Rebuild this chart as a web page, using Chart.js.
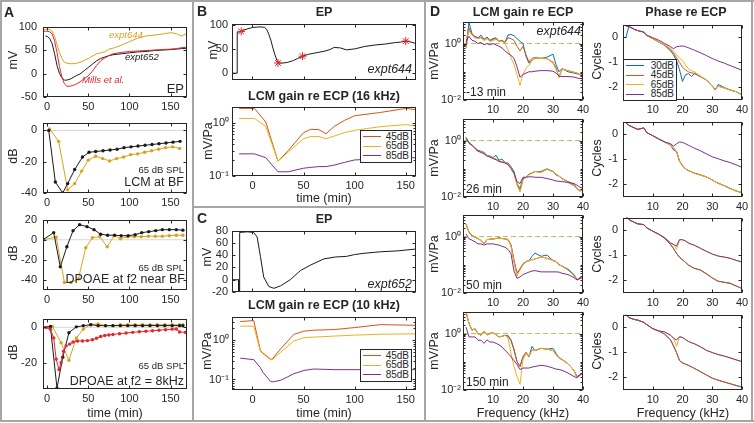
<!DOCTYPE html>
<html>
<head>
<meta charset="UTF-8">
<title>EP and LCM gain during furosemide</title>
<script src="https://cdn.jsdelivr.net/npm/chart.js"></script>
<style>
    body { margin: 0; background: #fff; font-family: "Liberation Sans", Arial, sans-serif; color: #262626; }
    #fig { position: relative; width: 754px; height: 423px; overflow: hidden; }
    canvas { position: absolute; }
    .t { position: absolute; white-space: nowrap; line-height: 1; }
    .rule { position: absolute; background: #a6a6a6; }
    .leg { position: absolute; border: 1px solid #262626; background: #fff; box-sizing: border-box; padding: 1px 2px; color: #262626; }
    .leg .row { display: flex; align-items: center; justify-content: space-between; line-height: 1; white-space: nowrap; }
    .leg .ln { display: block; flex: 0 0 18px; height: 1px; }
</style>
</head>
<body>
<div id="fig"></div>
<script>
// ---- panel A: EP and cochlear responses vs time (min) ----
const a1Time = [-5, -2, 0, 3, 6, 9, 12, 15, 18, 21, 24, 28, 32, 36, 40, 45, 50, 55, 60, 65, 70, 75, 80, 90, 100, 110, 120, 130, 140, 150, 157, 163, 170];
const a1Gold = [93, 94, 94, 94, 90, 80, 62, 45, 32, 24, 22, 21, 21, 22, 24, 28, 32, 37, 42, 44, 46, 52, 54, 60, 68, 75, 80, 82, 84, 87, 85, 80, 85];
const a1Black = [null, 80, 79, 75, 64, 43, 17, 0, -9, -14, -14, -12, -8, -4, -1, 6, 13, 20, 27, 32, 35, 38, 40, 42, 44, 46, 47, 49, 50, 51, 52, 53, 54];
const a1Mills = [90, 90, 90, 89, 85, 70, 45, 15, -8, -22, -27, -27, -25, -22, -18, -11, -5, 5, 17, 27, 33, 38, 42, 45, 47, 48, 49, 50, 51, 52, 53, 55, 56];

const a2BlackT = [2, 10, 19, 25, 33.5, 43, 51, 59, 68, 76.5, 85, 93.5, 102, 110.5, 119, 127.5, 136, 144.5, 153, 161.5];
const a2Black = [0, -33, -40, -34, -25, -17, -14, -13.5, -13, -12.5, -12, -11, -10.5, -10, -9.5, -9, -8.5, -8, -7.5, -7];
const a2GoldT = [3, 14, 25, 33.5, 42, 50, 59, 67.5, 76, 84.5, 93, 101.5, 110, 118.5, 127, 135.5, 144, 152.5, 161];
const a2Gold = [1, -7, -38, -34, -26, -19, -16.5, -18, -19.5, -18, -17, -15.5, -15, -14, -13, -12, -11, -10.5, -11.5];

const a3BlackT = [-5, 8, 16, 24, 31.5, 39.5, 48.5, 57, 65, 73.5, 82, 90, 98.5, 107, 115, 123.5, 132, 140, 148.5, 157, 165];
const a3Black = [0, 7, -27, -7, 9, 15, 13, 10, 5.5, 4.5, 4.5, 4, 4, 5, 7, 8, 9, 10, 10, 10, 9.5];
const a3GoldT = [-5, 11, 21, 29, 38, 47, 55, 64, 73, 81.5, 89, 97.5, 106, 114.5, 123, 131.5, 140, 148.5, 157, 165];
const a3Gold = [0, 2.5, -42.5, -42.5, -39, -8, 2, 3, -7, 4, 1, 3, 3, 3, 3.5, 3.5, 3.5, 4, 4.5, 4.5];

const a4BlackT = [-5, 4, 12, 19, 26.5, 35.5, 44, 53, 62, 71, 80, 89, 98, 107, 116, 125, 134, 143, 152, 161, 165];
const a4Black = [0, 0.5, -34.5, -17, -3, 0.3, 1, 1.5, 1, 1, 1, 1, 1, 1, 1, 1, 1, 1, 1, 1, 1];
const a4GoldT = [-5, 6.5, 17, 26.5, 35.5, 44, 53, 62, 71, 80, 89, 98, 107, 116, 125, 134, 143, 152, 161, 165];
const a4Gold = [0, 0.5, -8.7, -18.7, -6, -1, 1.7, 2, 1, 1, 1.5, 1.5, 1.5, 1.5, 1.5, 1.5, 1.5, 1.5, 1.5, 1.5];
const a4RedT = [-5, -1, 4, 8, 11, 14.5, 17, 20, 23, 27.5, 31.5, 37, 43, 49, 55, 60, 65, 70, 75, 80, 88, 96, 104, 112, 120, 128, 136, 144, 152, 157, 161, 168];
const a4Red = [0, 0, -1, -6, -18, -24, -20, -13.5, -10.5, -9.5, -8.3, -7.7, -7.7, -7.5, -7, -6.2, -5.2, -4.6, -4.3, -4, -3.6, -3.2, -2.8, -2.5, -2.2, -1.9, -1.6, -1.3, -1, -0.9, -2.6, -2.8];

// ---- panel B: expt644 ----
const b1T = [-20, -15, -14.9, -13, -11, -8, -5, 0, 5, 9, 12, 14, 16, 18, 20, 22, 24, 26, 30, 34, 40, 44, 49, 55, 60, 65, 70, 75, 80, 86, 92, 100, 110, 120, 130, 140, 145, 150, 155, 160];
const b1EP = [0, 0, 84, 85, 86, 89, 91, 94, 95, 95, 94, 90, 80, 68, 52, 38, 26, 21, 21, 22, 26, 30, 35, 39, 41, 43, 45, 48, 53, 52, 48, 50, 55, 58, 60, 63, 64, 66, 64, 61];
const b1StarT = [-11, 25, 49, 150];
const b1StarV = [86, 21, 35, 66];
const b2T = [-13, 2, 13, 25, 35, 50, 57, 65, 72, 80, 90, 100, 125, 150, 160];
const b2Db45 = [1.85, 1.85, 1.03, 0.19, 0.3, 0.65, 0.75, 0.74, 0.62, 0.85, 1.1, 1.35, 1.55, 1.85, 1.75];
const b2Db65 = [1.2, 1.2, 0.85, 0.19, 0.28, 0.5, 0.55, 0.55, 0.5, 0.56, 0.65, 0.72, 0.84, 0.92, 0.87];
const b2Db85 = [0.26, 0.26, 0.22, 0.12, 0.12, 0.14, 0.145, 0.15, 0.15, 0.16, 0.18, 0.2, 0.21, 0.22, 0.22];

// ---- panel C: expt652 ----
const c1T = [-20, -13.5, -13.4, -12.6, -12.5, -5, 1.3, 4.6, 7.8, 11, 16, 21, 27.5, 37, 47, 57, 70, 81, 92, 100, 109, 125, 142, 160];
const c1EP = [0, 0, -20, -20, 77, 78, 77, 69.5, 38, 4.4, -11, -14, -10, 0, 15, 24, 34, 37, 38, 41, 43, 45.5, 47, 50];
const c2T = [-12, 1.3, 7.8, 10, 17.6, 19.3, 27.5, 40.5, 50.3, 60, 81, 100, 125, 160];
const c2Db45 = [3.0, 3.16, 0.54, 0.48, 0.33, 0.33, 0.6, 1.41, 1.7, 1.8, 1.88, 2.1, 2.5, 2.4];
const c2Db65 = [2.28, 2.28, 0.52, 0.46, 0.32, 0.32, 0.49, 0.96, 1.16, 1.2, 1.28, 1.35, 1.42, 1.46];
const c2Db85 = [0.35, 0.32, 0.2, 0.155, 0.09, 0.087, 0.095, 0.14, 0.17, 0.185, 0.178, 0.178, 0.178, 0.178];

// ---- panel D: LCM gain and phase vs frequency (kHz), 4 time points ----
const dTimes = ['-13 min', '26 min', '50 min', '150 min'];
const dLevels = ['30dB', '45dB', '65dB', '85dB'];
const dGainF = [1, 2, 3, 4, 5, 6, 7, 8, 9, 10, 11, 12, 13, 14, 15, 16, 17, 18, 19, 20, 21, 22, 23, 24, 26, 28, 30, 31, 32, 33, 35, 37, 38, 39, 40];
const g1Blue = [0.9, 5.5, 2.2, 1.8, 1.6, 2.0, 1.4, 1.7, 1.3, 1.5, 1.6, 1.2, 1.3, 1.1, 2.0, 2.1, 1.9, 1.5, 1.2, 1.0, 0.35, 0.2, 0.25, 0.3, 0.3, 0.33, 0.42, 0.18, 0.1, 0.13, 0.1, 0.09, 0.085, 0.08, 0.075];
const g1Red = [0.7, 3.6, 2.0, 1.7, 1.5, 1.7, 1.3, 1.6, 1.2, 1.4, 1.5, 1.2, 1.25, 1.1, 1.6, 1.5, 1.3, 0.8, 0.55, 0.8, 0.4, 0.22, 0.3, 0.32, 0.3, 0.29, 0.22, 0.14, 0.064, 0.125, 0.11, 0.096, 0.09, 0.08, 0.072];
const g1Yel = [1.5, 2.8, 2.0, 1.6, 1.5, 1.6, 1.3, 1.5, 1.2, 1.3, 1.4, 1.2, 1.2, 1.0, 0.6, 0.32, 0.18, 0.08, 0.033, 0.08, 0.13, 0.17, 0.25, 0.3, 0.3, 0.3, 0.2, 0.12, 0.07, 0.12, 0.11, 0.096, 0.09, 0.08, 0.075];
const g1Pur = [1.2, 1.8, 1.3, 1.2, 1.0, 1.1, 0.9, 1.0, 0.9, 1.0, 0.9, 0.8, 0.7, 0.55, 0.45, 0.38, 0.3, 0.15, 0.064, 0.08, 0.09, 0.1, 0.1, 0.105, 0.11, 0.11, 0.105, 0.09, 0.07, 0.068, 0.068, 0.065, 0.06, 0.058, 0.056];
const g2Blue = [1.3, 0.85, 0.7, 0.55, 0.45, 0.42, 0.38, 0.3, 0.28, 0.25, 0.3, 0.2, 0.22, 0.17, 0.16, 0.12, 0.08, 0.03, 0.02, 0.045, 0.05, 0.065, 0.07, 0.08, 0.08, 0.1, 0.08, 0.06, 0.055, 0.045, 0.035, 0.028, 0.02, 0.017, 0.018];
const g2Red = [1.2, 0.82, 0.7, 0.55, 0.42, 0.4, 0.36, 0.3, 0.27, 0.24, 0.22, 0.19, 0.18, 0.17, 0.15, 0.11, 0.07, 0.029, 0.016, 0.043, 0.05, 0.064, 0.07, 0.08, 0.075, 0.096, 0.08, 0.064, 0.055, 0.045, 0.033, 0.025, 0.02, 0.016, 0.02];
const g2Yel = [1.2, 0.8, 0.68, 0.54, 0.42, 0.4, 0.36, 0.3, 0.27, 0.24, 0.22, 0.19, 0.18, 0.17, 0.15, 0.11, 0.065, 0.027, 0.015, 0.04, 0.05, 0.062, 0.07, 0.08, 0.075, 0.095, 0.08, 0.062, 0.055, 0.045, 0.033, 0.025, 0.02, 0.016, 0.02];
const g2Pur = [1.2, 0.8, 0.68, 0.52, 0.42, 0.38, 0.34, 0.28, 0.26, 0.23, 0.21, 0.18, 0.17, 0.16, 0.14, 0.1, 0.07, 0.035, 0.03, 0.05, 0.05, 0.052, 0.052, 0.05, 0.05, 0.045, 0.04, 0.037, 0.036, 0.035, 0.033, 0.03, 0.026, 0.022, 0.021];
const g3Blue = [2.8, 1.4, 1.1, 0.95, 0.85, 0.72, 0.55, 0.78, 0.8, 0.83, 0.85, 0.9, 0.85, 0.83, 0.75, 0.5, 0.14, 0.05, 0.07, 0.1, 0.13, 0.14, 0.2, 0.26, 0.2, 0.22, 0.14, 0.13, 0.1, 0.09, 0.07, 0.045, 0.03, 0.035, 0.037];
const g3Red = [2.8, 1.4, 1.1, 0.95, 0.85, 0.72, 0.55, 0.78, 0.8, 0.83, 0.85, 0.9, 0.85, 0.83, 0.8, 0.5, 0.14, 0.05, 0.073, 0.11, 0.13, 0.14, 0.15, 0.16, 0.19, 0.17, 0.144, 0.13, 0.1, 0.09, 0.065, 0.04, 0.029, 0.033, 0.037];
const g3Yel = [2.8, 1.4, 1.1, 0.95, 0.85, 0.72, 0.55, 0.78, 0.8, 0.83, 0.85, 0.9, 0.85, 0.83, 0.78, 0.45, 0.12, 0.04, 0.065, 0.1, 0.13, 0.14, 0.15, 0.16, 0.19, 0.17, 0.14, 0.13, 0.1, 0.09, 0.065, 0.04, 0.029, 0.033, 0.037];
const g3Pur = [1.25, 0.83, 0.75, 0.65, 0.55, 0.55, 0.5, 0.55, 0.55, 0.55, 0.52, 0.5, 0.45, 0.42, 0.35, 0.25, 0.06, 0.033, 0.037, 0.045, 0.05, 0.055, 0.06, 0.062, 0.056, 0.056, 0.056, 0.056, 0.055, 0.05, 0.045, 0.035, 0.029, 0.033, 0.035];
const g4Blue = [5.8, 2.3, 1.3, 1.5, 1.0, 0.87, 1.2, 0.9, 1.0, 1.1, 0.9, 0.76, 0.8, 0.87, 0.85, 0.6, 0.28, 0.1, 0.068, 0.15, 0.2, 0.15, 0.35, 0.25, 0.3, 0.28, 0.3, 0.2, 0.14, 0.12, 0.085, 0.05, 0.03, 0.035, 0.04];
const g4Red = [5.8, 2.3, 1.3, 1.5, 1.0, 0.87, 1.2, 0.9, 1.0, 1.1, 0.9, 0.76, 0.8, 0.87, 0.8, 0.55, 0.26, 0.1, 0.068, 0.15, 0.22, 0.16, 0.26, 0.25, 0.3, 0.28, 0.25, 0.18, 0.135, 0.12, 0.085, 0.05, 0.027, 0.033, 0.04];
const g4Yel = [5.8, 2.3, 1.3, 1.5, 1.0, 0.87, 1.2, 0.9, 1.0, 1.1, 0.9, 0.76, 0.8, 0.87, 0.7, 0.2, 0.068, 0.03, 0.016, 0.118, 0.2, 0.16, 0.25, 0.25, 0.3, 0.28, 0.25, 0.18, 0.135, 0.12, 0.085, 0.05, 0.027, 0.033, 0.04];
const g4Pur = [1.7, 0.76, 0.76, 0.76, 0.58, 0.58, 0.45, 0.6, 0.5, 0.5, 0.45, 0.4, 0.33, 0.26, 0.2, 0.15, 0.11, 0.08, 0.053, 0.06, 0.06, 0.06, 0.065, 0.068, 0.075, 0.07, 0.06, 0.055, 0.053, 0.05, 0.04, 0.03, 0.027, 0.035, 0.04];

const dPhaseF = [1, 2, 4, 5, 7, 8, 10, 12, 14, 16, 17, 18, 19, 20, 21, 22, 23, 24, 26, 28, 30, 31, 32, 34, 36, 38, 40];
const p1Blue = [0.0, 0.44, 0.3, 0.26, 0.2, 0.06, -0.06, -0.19, -0.32, -0.55, -0.7, -0.94, -1.3, -1.76, -1.5, -1.45, -1.57, -1.45, -1.57, -1.7, -1.95, -2.1, -1.88, -2.0, -2.1, -2.17, -2.3];
const p1Red = [0.45, 0.42, 0.3, 0.26, 0.2, 0.06, -0.06, -0.19, -0.32, -0.5, -0.64, -0.82, -1.0, -1.2, -1.3, -1.38, -1.42, -1.44, -1.57, -1.7, -1.95, -2.07, -1.95, -2.02, -2.1, -2.17, -2.3];
const p1Yel = [0.45, 0.42, 0.3, 0.26, 0.2, 0.06, -0.06, -0.19, -0.3, -0.45, -0.56, -0.69, -0.82, -0.94, -1.1, -1.26, -1.33, -1.38, -1.55, -1.7, -1.95, -2.05, -1.95, -2.02, -2.1, -2.17, -2.3];
const p1Pur = [0.45, 0.42, 0.3, 0.26, 0.2, 0.08, -0.02, -0.12, -0.25, -0.38, -0.46, -0.38, -0.36, -0.35, -0.38, -0.42, -0.47, -0.52, -0.62, -0.73, -0.85, -0.9, -0.95, -1.03, -1.13, -1.22, -1.32];
const p2Blue = [0.44, 0.35, 0.24, 0.19, 0.25, 0.06, -0.06, -0.19, -0.31, -0.44, -0.63, -0.69, -1.07, -1.26, -1.38, -1.45, -1.5, -1.55, -1.62, -1.7, -1.82, -1.9, -1.95, -2.05, -2.16, -2.26, -2.33];
const p2Red = [0.44, 0.35, 0.24, 0.19, 0.25, 0.06, -0.06, -0.19, -0.31, -0.44, -0.55, -0.69, -1.07, -1.26, -1.38, -1.45, -1.5, -1.55, -1.62, -1.7, -1.82, -1.9, -1.95, -2.05, -2.16, -2.26, -2.33];
const p2Yel = [0.44, 0.35, 0.24, 0.19, 0.25, 0.06, -0.06, -0.19, -0.31, -0.44, -0.55, -0.7, -1.06, -1.25, -1.37, -1.45, -1.5, -1.56, -1.63, -1.7, -1.82, -1.9, -1.96, -2.05, -2.16, -2.26, -2.33];
const p2Pur = [0.44, 0.35, 0.24, 0.19, 0.25, 0.06, -0.06, -0.19, -0.31, -0.38, -0.48, -0.38, -0.31, -0.33, -0.38, -0.44, -0.5, -0.56, -0.66, -0.78, -0.9, -0.94, -0.98, -1.06, -1.13, -1.22, -1.32];
const p3Blue = [0.54, 0.42, 0.3, 0.25, 0.22, 0.09, -0.04, -0.16, -0.32, -0.57, -0.74, -0.92, -1.08, -1.18, -1.28, -1.39, -1.46, -1.52, -1.58, -1.73, -1.9, -1.97, -2.03, -2.07, -2.11, -2.22, -2.32];
const p3Red = [0.54, 0.42, 0.3, 0.25, 0.22, 0.09, -0.04, -0.16, -0.32, -0.57, -0.74, -0.92, -1.08, -1.18, -1.28, -1.39, -1.46, -1.52, -1.59, -1.74, -1.9, -1.97, -2.03, -2.08, -2.12, -2.22, -2.32];
const p3Yel = [0.54, 0.42, 0.3, 0.25, 0.22, 0.09, -0.04, -0.16, -0.3, -0.51, -0.57, -0.76, -0.38, -0.38, -0.43, -0.51, -0.56, -0.6, -0.72, -0.84, -0.95, -0.99, -1.03, -1.07, -1.12, -1.2, -1.27];
const p3Pur = [0.54, 0.42, 0.3, 0.25, 0.22, 0.09, -0.04, -0.16, -0.3, -0.51, -0.57, -0.63, -0.38, -0.38, -0.43, -0.51, -0.56, -0.6, -0.72, -0.84, -0.95, -0.99, -1.03, -1.07, -1.12, -1.2, -1.27];
const p4Blue = [0.5, 0.38, 0.3, 0.28, 0.19, 0.1, -0.06, -0.15, -0.28, -0.51, -0.75, -1.01, -1.33, -1.42, -1.47, -1.52, -1.58, -1.64, -1.77, -1.9, -2.03, -2.07, -2.11, -2.18, -2.25, -2.32, -2.38];
const p4Red = [0.5, 0.38, 0.3, 0.28, 0.19, 0.1, -0.06, -0.15, -0.28, -0.51, -0.75, -1.01, -1.33, -1.42, -1.47, -1.52, -1.58, -1.64, -1.77, -1.9, -2.03, -2.07, -2.11, -2.18, -2.25, -2.32, -2.38];
const p4Yel = [0.5, 0.38, 0.3, 0.28, 0.19, 0.1, -0.06, -0.15, -0.19, -0.32, -0.44, -0.76, -0.38, -0.41, -0.49, -0.57, -0.62, -0.66, -0.78, -0.92, -1.01, -1.05, -1.09, -1.15, -1.22, -1.3, -1.37];
const p4Pur = [0.5, 0.38, 0.3, 0.28, 0.19, 0.1, -0.06, -0.15, -0.19, -0.32, -0.44, -0.51, -0.38, -0.41, -0.49, -0.57, -0.62, -0.66, -0.78, -0.92, -1.01, -1.05, -1.09, -1.15, -1.22, -1.3, -1.37];

// tick values and their labels
const timeTicks = [0, 50, 100, 150];
const freqTicks = [10, 20, 30, 40];
const logNames = { 0.01: '10⁻²', 0.1: '10⁻¹', 1: '10⁰' };

// colours
const BLUE = '#0072BD', RED = '#D95319', YEL = '#EDB120', PUR = '#7E2F8E';
const GOLD = '#D8A31F', BLK = '#1a1a1a', MILLS = '#E3262B', GREEN = '#A3C85C', ZERO = '#d9d9d9';
const INK = '#262626';
const FONT = '"Liberation Sans", Arial, sans-serif';

const fig = document.getElementById('fig');
const PL = 34, PR = 10, PT = 8, PB = 16;

function minorLog(min, max, skip) {
    const out = [];
    for (let d = Math.floor(Math.log10(min)); d <= Math.ceil(Math.log10(max)); d++) {
        for (let k = 1; k <= 9; k++) {
            const v = k * Math.pow(10, d);
            if (v > min && v < max && !skip.includes(v)) out.push(v);
        }
    }
    return out;
}

// box with inward ticks on all four sides, like the original axes
const frame = {
    id: 'frame',
    afterDatasetsDraw(chart) {
        const { ctx, chartArea: a, scales: { x, y } } = chart;
        const L = Math.round(a.left) + 0.5, R = Math.round(a.right) - 0.5;
        const T = Math.round(a.top) + 0.5, B = Math.round(a.bottom) - 0.5;
        ctx.save();
        ctx.strokeStyle = INK;
        ctx.lineWidth = 1;
        ctx.strokeRect(L, T, R - L, B - T);
        ctx.beginPath();
        const mark = (vals, len, sc, horiz) => vals.forEach(v => {
            const p = Math.round(sc.getPixelForValue(v)) + 0.5;
            if (horiz) { ctx.moveTo(p, B); ctx.lineTo(p, B - len); ctx.moveTo(p, T); ctx.lineTo(p, T + len); }
            else { ctx.moveTo(L, p); ctx.lineTo(L + len, p); ctx.moveTo(R, p); ctx.lineTo(R - len, p); }
        });
        const xt = x.ticks.map(t => t.value), yt = y.ticks.map(t => t.value);
        mark(xt, 3, x, true);
        mark(yt, 3, y, false);
        if (y.type === 'logarithmic') mark(minorLog(y.min, y.max, yt), 2, y, false);
        ctx.stroke();
        ctx.restore();
    }
};

function axisOpts(a, isX) {
    return {
        type: a.log ? 'logarithmic' : 'linear',
        min: a.min,
        max: a.max,
        afterBuildTicks: s => { s.ticks = a.ticks.map(v => ({ value: v })); },
        afterFit: s => { if (isX) s.height = PB; else s.width = PL; },
        grid: { display: false, drawTicks: false },
        border: { display: false },
        ticks: {
            display: a.show !== false,
            padding: a.pad || (isX ? 3 : 4),
            color: INK,
            autoSkip: false,
            maxRotation: 0,
            font: { family: FONT, size: 11 },
            callback: v => a.log ? logNames[v] : String(v)
        }
    };
}

// box = [left, right, top, bottom] of the plot area in page pixels
function plot(box, xa, ya, datasets) {
    const w = box[1] - box[0] + PL + PR, h = box[3] - box[2] + PT + PB;
    const c = document.createElement('canvas');
    c.width = w;
    c.height = h;
    Object.assign(c.style, { left: (box[0] - PL) + 'px', top: (box[2] - PT) + 'px', width: w + 'px', height: h + 'px' });
    fig.appendChild(c);
    return new Chart(c, {
        type: 'line',
        data: { datasets },
        options: {
            responsive: false,
            animation: false,
            events: [],
            layout: { padding: { top: PT, right: PR, left: 0, bottom: 0 } },
            plugins: { legend: { display: false }, tooltip: { enabled: false } },
            scales: { x: axisOpts(xa, true), y: axisOpts(ya, false) }
        },
        plugins: [frame]
    });
}

const pts = (xs, ys) => xs.map((x, i) => ({ x, y: ys[i] }));
const line = (xs, ys, color, extra) => Object.assign({
    data: pts(xs, ys), borderColor: color, backgroundColor: color, borderWidth: 1, pointRadius: 0, tension: 0
}, extra || {});
const dots = (xs, ys, color) => line(xs, ys, color, { pointRadius: 1.7, pointBorderWidth: 0, pointBackgroundColor: color });

function txt(s, x, y, o = {}) {
    const d = document.createElement('div');
    d.className = 't';
    d.textContent = s;
    const ax = o.al === 'l' ? '0' : o.al === 'r' ? '-100%' : '-50%';
    Object.assign(d.style, {
        left: x + 'px', top: y + 'px',
        fontSize: (o.sz || 12.5) + 'px',
        fontWeight: o.b ? 'bold' : 'normal',
        fontStyle: o.it ? 'italic' : 'normal',
        color: o.c || INK,
        transform: `translate(${ax}, -50%)` + (o.rot ? ' rotate(-90deg)' : '')
    });
    fig.appendChild(d);
}

function rule(l, t, w, h) {
    const d = document.createElement('div');
    d.className = 'rule';
    Object.assign(d.style, { left: l + 'px', top: t + 'px', width: w + 'px', height: h + 'px' });
    fig.appendChild(d);
}

function legend(x, y, w, rowH, labels, colors) {
    const box = document.createElement('div');
    box.className = 'leg';
    Object.assign(box.style, { left: x + 'px', top: y + 'px', width: w + 'px' });
    labels.forEach((lab, i) => {
        const r = document.createElement('div');
        r.className = 'row';
        r.style.height = rowH + 'px';
        r.style.fontSize = '10px';
        const ln = document.createElement('span');
        ln.className = 'ln';
        ln.style.background = colors[i];
        const t = document.createElement('span');
        t.textContent = lab;
        r.append(ln, t);
        box.appendChild(r);
    });
    fig.appendChild(box);
}

// ---- panel frames ----
rule(0, 0, 754, 2); rule(0, 420, 754, 2); rule(0, 0, 2, 422); rule(751, 0, 2, 422);
rule(192, 0, 2, 422); rule(424, 0, 2, 422); rule(193, 206, 232, 2);

// ---- panel A ----
const aX = { min: -5, max: 170, ticks: timeTicks };
plot([43, 187, 22, 97], aX, { min: -50, max: 100, ticks: [-50, 0, 50, 100], pad: 6 }, [
    line(a1Time, a1Mills, MILLS), line(a1Time, a1Black, BLK), line(a1Time, a1Gold, GOLD)
]);
plot([43, 187, 118, 193], aX, { min: -40, max: 5, ticks: [-40, -20, 0], pad: 6 }, [
    dots(a2BlackT, a2Black, BLK), dots(a2GoldT, a2Gold, GOLD), line([-5, 170], [0, 0], ZERO)
]);
plot([43, 187, 215, 290], aX, { min: -50, max: 20, ticks: [-40, -20, 0, 20], pad: 6 }, [
    dots(a3BlackT, a3Black, BLK), dots(a3GoldT, a3Gold, GOLD), line([-5, 170], [0, 0], ZERO)
]);
plot([43, 187, 314, 389], aX, { min: -35, max: 5, ticks: [-20, 0], pad: 6 }, [
    dots(a4RedT, a4Red, MILLS), dots(a4BlackT, a4Black, BLK), dots(a4GoldT, a4Gold, GOLD), line([-5, 170], [0, 0], ZERO)
]);

// ---- panels B and C ----
const bX = { min: -20, max: 160, ticks: timeTicks };
const bXn = { min: -20, max: 160, ticks: timeTicks, show: false };
plot([232, 416, 21, 80], bXn, { min: -14, max: 102, ticks: [0, 50, 100] }, [
    line(b1StarT, b1StarV, MILLS, { showLine: false, pointStyle: 'star', pointRadius: 4, pointBorderWidth: 1, pointBorderColor: MILLS }),
    line(b1T, b1EP, BLK)
]);
plot([232, 416, 105, 176], bX, { log: true, min: 0.1, max: 2, ticks: [0.1, 1], pad: 3 }, [
    line(b2T, b2Db85, PUR), line(b2T, b2Db65, YEL), line(b2T, b2Db45, RED)
]);
plot([232, 416, 228, 292], bXn, { min: -20, max: 80, ticks: [-20, 0, 20, 40, 60, 80] }, [
    line(c1T, c1EP, BLK)
]);
plot([232, 416, 315, 390], bX, { log: true, min: 0.054, max: 4, ticks: [0.1, 1], pad: 3 }, [
    line(c2T, c2Db85, PUR), line(c2T, c2Db65, YEL), line(c2T, c2Db45, RED)
]);

// ---- panel D ----
const dRows = [[21, 100], [118, 197], [214, 293], [311, 390]];
const gain = [[g1Blue, g1Red, g1Yel, g1Pur], [g2Blue, g2Red, g2Yel, g2Pur], [g3Blue, g3Red, g3Yel, g3Pur], [g4Blue, g4Red, g4Yel, g4Pur]];
const phase = [[p1Blue, p1Red, p1Yel, p1Pur], [p2Blue, p2Red, p2Yel, p2Pur], [p3Blue, p3Red, p3Yel, p3Pur], [p4Blue, p4Red, p4Yel, p4Pur]];
const dColors = [BLUE, RED, YEL, PUR];
const dX = { min: 0, max: 40, ticks: freqTicks };
dRows.forEach((r, i) => {
    const g = gain[i], p = phase[i];
    plot([463, 583, r[0], r[1]], dX, { log: true, min: 0.01, max: 6, ticks: [0.01, 1], pad: 2 }, [
        line(dGainF, g[3], PUR), line(dGainF, g[2], YEL), line(dGainF, g[1], RED), line(dGainF, g[0], BLUE),
        line([0, 40], [1, 1], GREEN, { borderDash: [5, 3] })
    ]);
    plot([623, 742, r[0], r[1]], dX, { min: -2.5, max: 0.5, ticks: [-2, -1, 0], pad: 5 }, [
        line(dPhaseF, p[3], PUR), line(dPhaseF, p[2], YEL), line(dPhaseF, p[1], RED), line(dPhaseF, p[0], BLUE)
    ]);
});

// ---- text ----
txt('A', 4, 12, { al: 'l', sz: 14, b: true });
txt('B', 197, 11, { al: 'l', sz: 14, b: true });
txt('C', 197, 218, { al: 'l', sz: 14, b: true });
txt('D', 430, 11, { al: 'l', sz: 14, b: true });

txt('mV', 13, 60, { rot: true });
txt('dB', 13, 156, { rot: true });
txt('dB', 13, 253, { rot: true });
txt('dB', 13, 352, { rot: true });
txt('time (min)', 115, 413);
txt('expt644', 109, 35, { al: 'l', it: true, sz: 9.5, c: GOLD });
txt('expt652', 125, 57, { al: 'l', it: true, sz: 9.5, c: BLK });
txt('Mills et al.', 82, 80, { al: 'l', it: true, sz: 9.5, c: MILLS });
txt('EP', 184, 88, { al: 'r', sz: 13 });
txt('65 dB SPL', 184, 170, { al: 'r', sz: 9.5 });
txt('LCM at BF', 184, 182, { al: 'r' });
txt('65 dB SPL', 184, 268, { al: 'r', sz: 9.5 });
txt('DPOAE at f2 near BF', 185, 279, { al: 'r' });
txt('65 dB SPL', 184, 366, { al: 'r', sz: 9.5 });
txt('DPOAE at f2 = 8kHz', 184, 381, { al: 'r' });

txt('EP', 324, 12, { b: true });
txt('LCM gain re ECP (16 kHz)', 324, 96, { b: true });
txt('mV', 213, 50, { rot: true });
txt('mV/Pa', 208, 141, { rot: true });
txt('time (min)', 324, 198);
txt('expt644', 412, 69, { al: 'r', it: true });
legend(360, 130, 52, 9.5, dLevels.slice(1), [RED, YEL, PUR]);

txt('EP', 324, 219, { b: true });
txt('LCM gain re ECP (10 kHz)', 324, 305, { b: true });
txt('mV', 207, 257, { rot: true });
txt('mV/Pa', 207, 351, { rot: true });
txt('time (min)', 324, 413);
txt('expt652', 412, 284, { al: 'r', it: true });
legend(360, 349, 52, 9.5, dLevels.slice(1), [RED, YEL, PUR]);

txt('LCM gain re ECP', 523, 12, { b: true });
txt('Phase re ECP', 686, 12, { b: true });
txt('expt644', 581, 31, { al: 'r', it: true });
dRows.forEach((r, i) => {
    const mid = (r[0] + r[1]) / 2;
    txt('mV/Pa', 434, mid, { rot: true });
    txt('Cycles', 597, mid, { rot: true });
    txt(dTimes[i], 466, r[1] - 8, { al: 'l', sz: 12 });
});
txt('Frequency (kHz)', 523, 413);
txt('Frequency (kHz)', 683, 413);
legend(623, 59, 54, 9.5, dLevels, dColors);
</script>
</body>
</html>
